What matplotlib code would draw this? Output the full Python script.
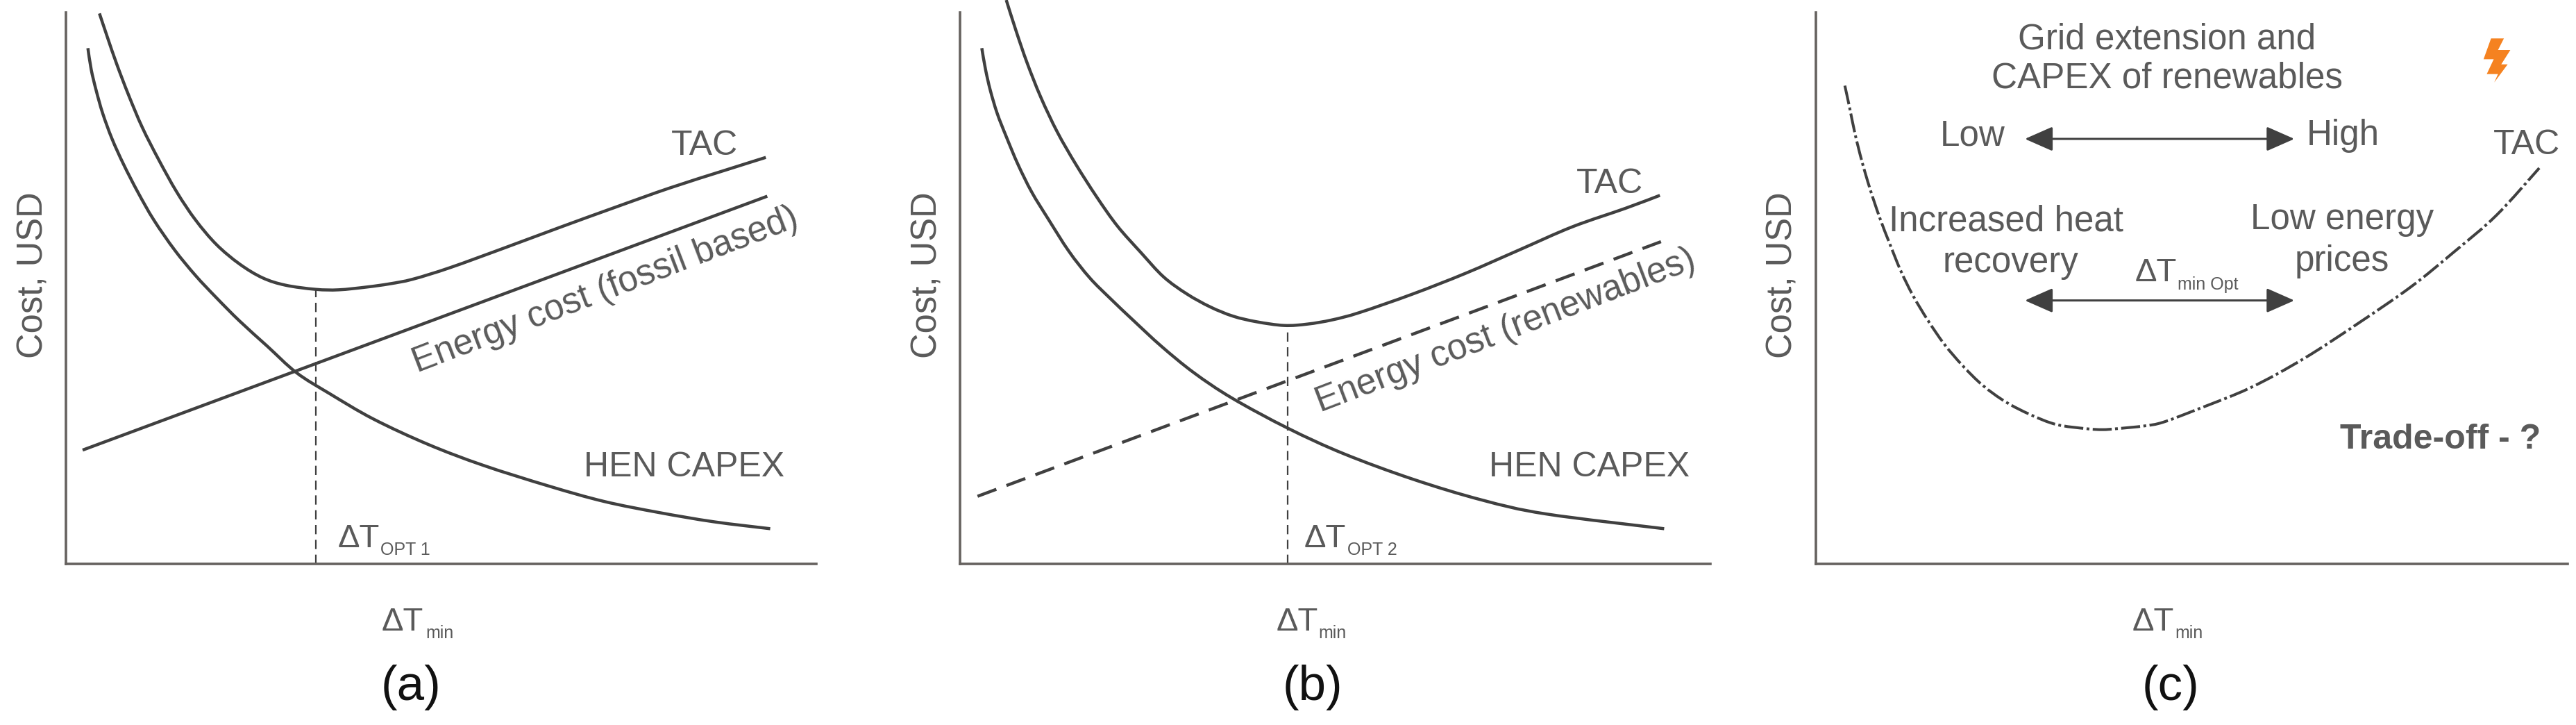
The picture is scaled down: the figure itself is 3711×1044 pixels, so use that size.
import matplotlib
matplotlib.use('Agg')
import matplotlib.pyplot as plt
from matplotlib.patches import PathPatch, Polygon
from matplotlib.path import Path

plt.rcParams['font.family'] = ['Liberation Sans', 'DejaVu Sans']

# panel (a)
a_tac_x = [61, 76, 93, 114, 139, 169, 202, 236, 274, 316, 358, 400, 455, 497, 548, 590, 632, 700, 800, 900, 1000, 1100, 1200, 1275]
a_tac_y = [1189, 1136, 1078, 1013, 943, 873, 803, 743, 690, 648, 618, 602, 593, 592, 598, 605, 615, 640, 683, 727, 770, 812, 850, 878]
a_capex_x = [40, 46, 55, 67, 84, 105, 131, 160, 198, 236, 274, 316, 367, 420, 480, 560, 660, 760, 880, 980, 1080, 1180, 1283]
a_capex_y = [1114, 1068, 1023, 973, 918, 863, 803, 743, 678, 623, 575, 525, 470, 413, 368, 313, 258, 213, 168, 135, 111, 91, 76]
a_energy_x = [33, 1275]
a_energy_y = [247, 793]
a_opt = [455, 591]

# panel (b)
b_tac_x = [87, 105, 126, 152, 183, 218, 257, 296, 340, 383, 427, 471, 514, 558, 610, 654, 700, 752, 852, 952, 1052, 1152, 1252, 1317]
b_tac_y = [1218, 1153, 1083, 1008, 933, 863, 793, 730, 673, 620, 583, 555, 535, 523, 515, 518, 527, 543, 583, 628, 678, 728, 768, 796]
b_capex_x = [41, 48, 57, 70, 87, 109, 135, 166, 205, 244, 283, 327, 379, 440, 512, 617, 722, 852, 982, 1102, 1325]
b_capex_y = [1114, 1068, 1023, 973, 923, 863, 803, 745, 675, 618, 573, 525, 470, 413, 358, 293, 238, 183, 138, 108, 76]
b_energy_x = [33, 1319]
b_energy_y = [146, 696]
b_opt = [617, 514]

# panel (c)
c_tac_x = [54, 63, 73, 86, 101, 119, 138, 158, 181, 209, 240, 274, 311, 354, 401, 449, 505, 535, 561, 613, 648, 710, 810, 910, 1010, 1110, 1190, 1270, 1350]
c_tac_y = [1033, 985, 929, 869, 810, 748, 691, 634, 580, 526, 474, 428, 386, 350, 322, 301, 292, 290, 292, 298, 306, 333, 380, 443, 518, 598, 673, 753, 855]
bolt_x = [1260, 1284, 1273, 1296, 1279, 1291, 1266, 1273, 1252, 1265, 1246]
bolt_y = [1135, 1135, 1110, 1110, 1079, 1079, 1040, 1058, 1058, 1090, 1090]

W, H = 3711, 1044
TEXT = '#5a5a5a'
LINE = '#404040'
AXIS = '#66625f'
TOP, BOTTOM = 18, 812


def make_axes(fig, left, right, xmax):
    ax = fig.add_axes([left / W, 1 - BOTTOM / H, (right - left) / W, (BOTTOM - TOP) / H])
    ax.set_xlim(0, xmax)
    ax.set_ylim(0, 1191)
    ax.patch.set_visible(False)
    ax.set_xticks([])
    ax.set_yticks([])
    ax.spines['top'].set_visible(False)
    ax.spines['right'].set_visible(False)
    ax.spines['left'].set_color(AXIS)
    ax.spines['bottom'].set_color(AXIS)
    ax.spines['left'].set_linewidth(2.6)
    ax.spines['bottom'].set_linewidth(2.6)
    return ax


# smooth line through the read points (catmull-rom as bezier)
def smooth(ax, xs, ys, **kw):
    pts = list(zip(xs, ys))
    verts = [pts[0]]
    codes = [Path.MOVETO]
    for i in range(len(pts) - 1):
        p0 = pts[max(i - 1, 0)]
        p1 = pts[i]
        p2 = pts[i + 1]
        p3 = pts[min(i + 2, len(pts) - 1)]
        verts.append((p1[0] + (p2[0] - p0[0]) / 6, p1[1] + (p2[1] - p0[1]) / 6))
        verts.append((p2[0] - (p3[0] - p1[0]) / 6, p2[1] - (p3[1] - p1[1]) / 6))
        verts.append(p2)
        codes += [Path.CURVE4] * 3
    ax.add_patch(PathPatch(Path(verts, codes), fill=False, clip_on=False, **kw))


def txt(ax, x, y, s, size=36, **kw):
    kw.setdefault('color', TEXT)
    kw.setdefault('ha', 'center')
    kw.setdefault('va', 'center')
    ax.text(x, y, s, fontsize=size, **kw)


def delta(ax, x, y, sub_dx, sub_dy, sub):
    txt(ax, x, y, '\u0394T', size=34, ha='left', va='baseline')
    txt(ax, x + sub_dx, y - sub_dy, sub, size=18, ha='left', va='baseline')


def common(ax, xmin_label, ylab_x, tag, tag_x):
    txt(ax, ylab_x, 623, 'Cost, USD', size=36.5, rotation=90)
    delta(ax, xmin_label, -144, 80, 16, 'min')
    txt(ax, tag_x, -267, tag, size=51, color='#111111')


fig = plt.figure(figsize=(W / 100, H / 100), dpi=100, facecolor='white')

# (a)
ax = make_axes(fig, 95, 1176, 1367)
smooth(ax, a_tac_x, a_tac_y, color=LINE, lw=3.2)
smooth(ax, a_capex_x, a_capex_y, color=LINE, lw=3.2)
ax.plot(a_energy_x, a_energy_y, color=LINE, lw=3.2)
ax.plot([a_opt[0], a_opt[0]], [0, a_opt[1]], color=LINE, lw=1.6, ls=(0, (6, 3.6)))
txt(ax, 1164, 903, 'TAC')
txt(ax, 1126, 208, 'HEN CAPEX')
txt(ax, 983, 590, 'Energy cost (fossil based)', size=37, rotation=21, rotation_mode='anchor')
delta(ax, 495, 36, 78, 16, 'OPT 1')
common(ax, 575, -59, '(a)', 628)

# (b)
ax = make_axes(fig, 1383, 2464, 1412)
smooth(ax, b_tac_x, b_tac_y, color=LINE, lw=3.2)
smooth(ax, b_capex_x, b_capex_y, color=LINE, lw=3.2)
ax.plot(b_energy_x, b_energy_y, color=LINE, lw=3.2, ls=(0, (6.5, 3.5)))
ax.plot([b_opt[0], b_opt[0]], [0, b_opt[1]], color=LINE, lw=1.6, ls=(0, (6, 3.6)))
txt(ax, 1222, 821, 'TAC')
txt(ax, 1184, 208, 'HEN CAPEX')
txt(ax, 1027, 503, 'Energy cost (renewables)', size=37, rotation=21, rotation_mode='anchor')
delta(ax, 647, 36, 82, 16, 'OPT 2')
common(ax, 595, -62, '(b)', 664)

# (c)
ax = make_axes(fig, 2616, 3699, 1403)
smooth(ax, c_tac_x, c_tac_y, color=LINE, lw=2.9, ls=(0, (6.8, 1.2, 1.0, 1.2)))
txt(ax, 655, 1133, 'Grid extension and', size=36.8)
txt(ax, 655, 1048, 'CAPEX of renewables', size=36.8)
txt(ax, 292, 924, 'Low', size=36.8)
txt(ax, 984, 924, 'High', size=36.8)
txt(ax, 1326, 905, 'TAC')
txt(ax, 355, 740, 'Increased heat', size=36.8)
txt(ax, 363, 650, 'recovery', size=36.8)
txt(ax, 982, 743, 'Low energy', size=36.8)
txt(ax, 982, 653, 'prices', size=36.8)
delta(ax, 595, 610, 80, 17, 'min Opt')
txt(ax, 1165, 268, 'Trade-off - ?', size=36, fontweight='bold')
for y in [918, 569]:
    ax.annotate('', xy=(893, y), xytext=(390, y),
                arrowprops=dict(arrowstyle='<|-|>,head_length=1.0,head_width=0.44', mutation_scale=25,
                                color=LINE, lw=2.2, shrinkA=0, shrinkB=0))
ax.add_patch(Polygon(list(zip(bolt_x, bolt_y)), closed=True, color='#f58220', lw=0))
common(ax, 590, -62, '(c)', 662)

fig.savefig('out.png', dpi=100)
